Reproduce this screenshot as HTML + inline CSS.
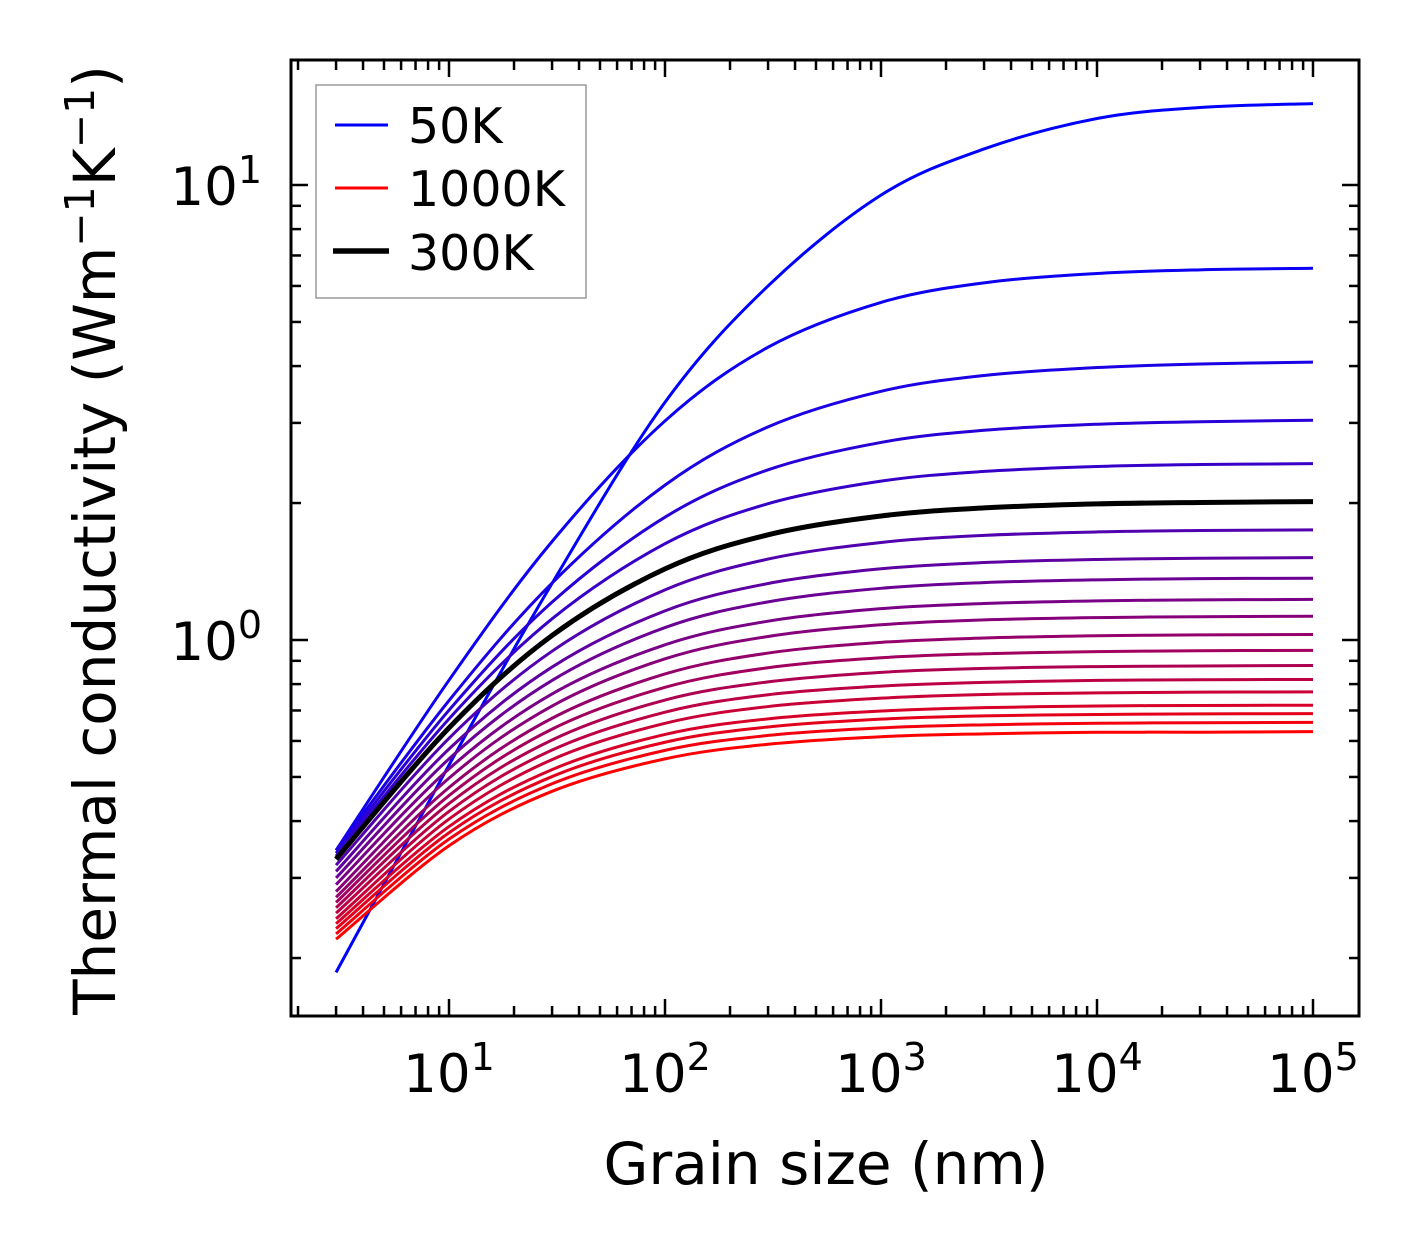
<!DOCTYPE html>
<html><head><meta charset="utf-8"><style>
html,body{margin:0;padding:0;background:#fff;}
svg{display:block;font-family:"DejaVu Sans","Liberation Sans",sans-serif;}
</style></head><body>
<svg id="chart" width="1421" height="1254" viewBox="0 0 1421 1254" xmlns="http://www.w3.org/2000/svg">
<rect x="0" y="0" width="1421" height="1254" fill="#fff"/>
<g id="curves"></g>
<g id="ticks"></g>
<rect x="291" y="60" width="1068" height="956" fill="none" stroke="#000" stroke-width="3"/>
<g id="labels"></g>
<text x="826" y="1184" font-size="58" text-anchor="middle">Grain size (nm)</text>
<text transform="translate(115,540) rotate(-90)" font-size="58" text-anchor="middle">Thermal conductivity (Wm<tspan dy="-21" font-size="41">−1</tspan><tspan dy="21">K</tspan><tspan dy="-21" font-size="41">−1</tspan><tspan dy="21">)</tspan></text>
<g>
<rect x="316" y="85" width="270" height="213" fill="#fff" stroke="#999" stroke-width="1.5"/>
<line x1="335" y1="125" x2="388" y2="125" stroke="#0000ff" stroke-width="3"/>
<text x="408" y="143" font-size="49">50K</text>
<line x1="335" y1="188" x2="388" y2="188" stroke="#ff0000" stroke-width="3"/>
<text x="408" y="206" font-size="49">1000K</text>
<line x1="333" y1="251" x2="389" y2="251" stroke="#000" stroke-width="5.5"/>
<text x="408" y="270" font-size="49">300K</text>
</g>
</svg>
<script>
const grainSizes = [3, 10, 30, 100, 300, 1000, 3000, 10000, 30000, 100000];
const temperatures = [50,100,150,200,250,300,350,400,450,500,550,600,650,700,750,800,850,900,950,1000];
const k50 = [0.186,0.531,1.332,3.33,6.0,9.5,12.0,14.0,14.8,15.1];
const k100 = [0.345,0.816,1.646,3.03,4.40,5.52,6.095,6.39,6.51,6.56];
const k150 = [0.345,0.736,1.334,2.19,2.94,3.52,3.813,3.97,4.042,4.08];
const k200 = [0.34,0.701,1.211,1.862,2.366,2.718,2.890,2.98,3.018,3.04];
const k250 = [0.335,0.671,1.113,1.628,1.993,2.234,2.347,2.406,2.430,2.441];
const k300 = [0.33,0.641,1.023,1.433,1.703,1.873,1.951,1.991,2.006,2.014];
const k350 = [0.32,0.608,0.945,1.289,1.506,1.638,1.698,1.728,1.740,1.746];
const k400 = [0.31,0.576,0.872,1.159,1.331,1.434,1.480,1.503,1.512,1.517];
const k450 = [0.30,0.548,0.815,1.065,1.213,1.299,1.337,1.356,1.364,1.367];
const k500 = [0.29,0.521,0.761,0.976,1.100,1.172,1.203,1.219,1.225,1.228];
const k550 = [0.28,0.497,0.716,0.909,1.018,1.080,1.107,1.120,1.125,1.128];
const k600 = [0.272,0.474,0.673,0.842,0.936,0.988,1.010,1.022,1.026,1.028];
const k650 = [0.265,0.455,0.637,0.787,0.869,0.914,0.933,0.943,0.947,0.949];
const k700 = [0.258,0.437,0.603,0.738,0.809,0.849,0.866,0.874,0.877,0.879];
const k750 = [0.251,0.420,0.573,0.694,0.758,0.792,0.807,0.815,0.818,0.819];
const k800 = [0.244,0.404,0.546,0.656,0.714,0.745,0.759,0.765,0.768,0.769];
const k850 = [0.238,0.389,0.519,0.620,0.671,0.698,0.710,0.716,0.718,0.719];
const k900 = [0.232,0.377,0.501,0.596,0.644,0.670,0.681,0.686,0.688,0.689];
const k950 = [0.226,0.365,0.483,0.572,0.617,0.641,0.651,0.656,0.658,0.659];
const k1000 = [0.22,0.353,0.465,0.548,0.590,0.613,0.622,0.627,0.627,0.629];
const series = [k50,k100,k150,k200,k250,k300,k350,k400,k450,k500,k550,k600,k650,k700,k750,k800,k850,k900,k950,k1000];
const highlightSeries = k300;
const xTickExps = [1,2,3,4,5];
const yTickExps = [0,1];

const NS = 'http://www.w3.org/2000/svg';
const X0 = 449, XPD = 216, Y0 = 640, YPD = 455;
const PL = 291, PR = 1359, PT = 60, PB = 1016;
function xs(v){ return X0 + (Math.log10(v) - 1) * XPD; }
function ys(v){ return Y0 - Math.log10(v) * YPD; }
function mk(tag, attrs){ const e = document.createElementNS(NS, tag); for (const k in attrs) e.setAttribute(k, attrs[k]); return e; }
function pathFor(vals){
  const p = grainSizes.map((g,i)=>[xs(g), ys(vals[i])]);
  let d = 'M' + p[0][0].toFixed(2) + ',' + p[0][1].toFixed(2);
  for (let i=0;i<p.length-1;i++){
    const p0 = p[Math.max(0,i-1)], p1 = p[i], p2 = p[i+1], p3 = p[Math.min(p.length-1,i+2)];
    const c1x = p1[0] + (p2[0]-p0[0])/6, c1y = p1[1] + (p2[1]-p0[1])/6;
    const c2x = p2[0] - (p3[0]-p1[0])/6, c2y = p2[1] - (p3[1]-p1[1])/6;
    d += ' C' + c1x.toFixed(2)+','+c1y.toFixed(2)+' '+c2x.toFixed(2)+','+c2y.toFixed(2)+' '+p2[0].toFixed(2)+','+p2[1].toFixed(2);
  }
  return d;
}
const cg = document.getElementById('curves');
series.forEach((vals, i) => {
  const t = i / (series.length - 1);
  const col = 'rgb(' + Math.round(255*t) + ',0,' + Math.round(255*(1-t)) + ')';
  const el = mk('path', {d: pathFor(vals), fill:'none', stroke: col, 'stroke-width': 3});
  
  
  cg.appendChild(el);
});
const hl = mk('path', {d: pathFor(highlightSeries), fill:'none', stroke:'#000', 'stroke-width': 5});


cg.appendChild(hl);

const tg = document.getElementById('ticks');
function tick(x1,y1,x2,y2,name){
  const l = mk('line', {x1:x1,y1:y1,x2:x2,y2:y2,stroke:'#000','stroke-width':2.5});
  
  
  tg.appendChild(l);
}
for (let e=0;e<=5;e++){
  for (let m=1;m<=9;m++){
    const v = m*Math.pow(10,e), x = xs(v);
    if (x < PL+1 || x > PR-1) continue;
    const L = m===1 ? 17 : 10;
    tick(x,PB,x,PB-L,'x-tick');
    tick(x,PT,x,PT+L,'x-tick-top');
  }
}
for (let e=-1;e<=1;e++){
  for (let m=1;m<=9;m++){
    const v = m*Math.pow(10,e), y = ys(v);
    if (y < PT+1 || y > PB-1) continue;
    const L = m===1 ? 17 : 10;
    tick(PL,y,PL+L,y,'y-tick');
    tick(PR,y,PR-L,y,'y-tick-right');
  }
}
const lg = document.getElementById('labels');
xTickExps.forEach(e => {
  const t = mk('text', {x: xs(Math.pow(10,e)) + 0, y: 1092, 'font-size': 53, 'text-anchor':'middle'});
  
  
  t.innerHTML = '10<tspan dy="-22" font-size="38">' + e + '</tspan>';
  lg.appendChild(t);
});
yTickExps.forEach(e => {
  const t = mk('text', {x: 262, y: ys(Math.pow(10,e)) + 20, 'font-size': 53, 'text-anchor':'end'});
  
  
  t.innerHTML = '10<tspan dy="-22" font-size="38">' + e + '</tspan>';
  lg.appendChild(t);
});
</script>
</body></html>
